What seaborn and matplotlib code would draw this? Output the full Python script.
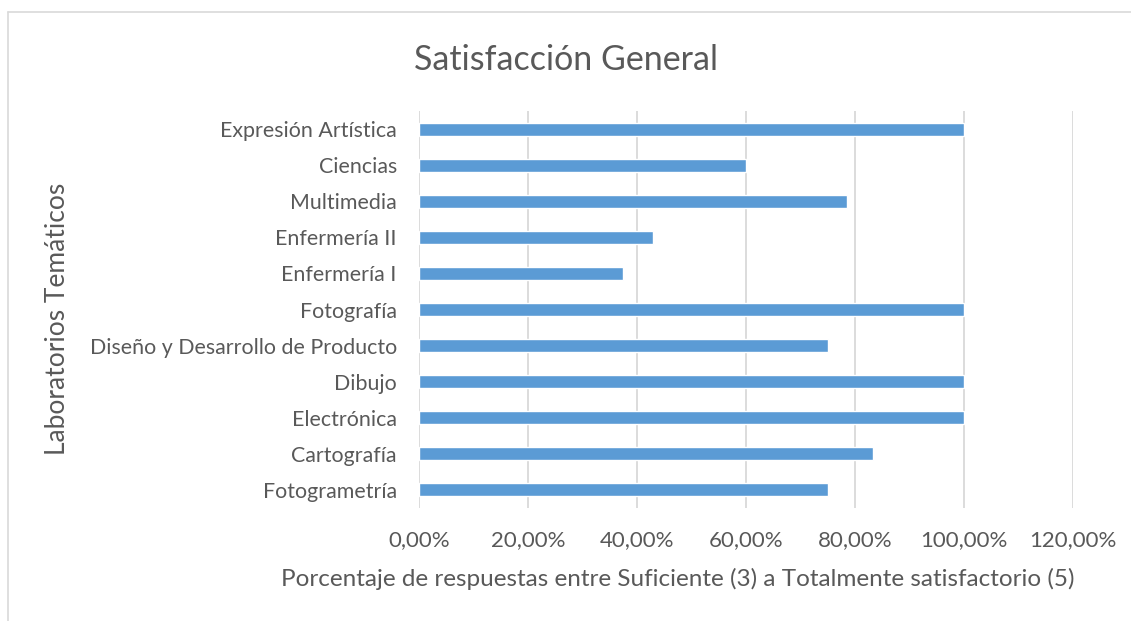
import matplotlib
matplotlib.use("Agg")
import matplotlib.pyplot as plt
import seaborn as sns
import pandas as pd
from matplotlib.ticker import FuncFormatter
from matplotlib.lines import Line2D

laboratorios = ['Expresión Artística', 'Ciencias', 'Multimedia', 'Enfermería II',
                'Enfermería I', 'Fotografía', 'Diseño y Desarrollo de Producto',
                'Dibujo', 'Electrónica', 'Cartografía', 'Fotogrametría']
porcentajes = [100.0, 60.0, 78.57, 42.86, 37.5, 100.0, 75.0, 100.0, 100.0, 83.33, 75.0]

df = pd.DataFrame({'lab': laboratorios, 'pct': porcentajes})

sns.set_style('white')
plt.rcParams['font.family'] = ['Lato', 'DejaVu Sans']
gris = '#595959'

fig = plt.figure(figsize=(11.31, 6.21), dpi=100)
ax = fig.add_axes([0.3705, 0.182, 0.578, 0.639])

sns.barplot(data=df, y='lab', x='pct', color='#5B9BD5', width=0.36,
            saturation=1, orient='h', ax=ax, zorder=3)

ax.set_xlim(0, 120)
ax.set_xticks(range(0, 121, 20))
ax.xaxis.set_major_formatter(FuncFormatter(lambda v, p: f'{v:.2f}%'.replace('.', ',')))
ax.grid(axis='x', color='#D9D9D9', linewidth=1.3, zorder=0)
for s in ax.spines.values():
    s.set_visible(False)
ax.tick_params(axis='both', length=0, labelcolor=gris)
ax.tick_params(axis='x', labelsize=16, pad=16)
ax.tick_params(axis='y', labelsize=15.4, pad=16)

ax.set_xlabel('Porcentaje de respuestas entre Suficiente (3) a Totalmente satisfactorio (5)',
              fontsize=17.5, color=gris)
ax.xaxis.set_label_coords(0.396, -0.152)
ax.set_ylabel('Laboratorios Temáticos', fontsize=19, color=gris)
ax.yaxis.set_label_coords(-0.534, 0.477)

fig.text(0.5, 0.903, 'Satisfacción General', ha='center', va='center',
         fontsize=24.5, color=gris)

# borde del área del gráfico
fig.add_artist(Line2D([0.007, 1], [0.981, 0.981], color='#D9D9D9', lw=1.2))
fig.add_artist(Line2D([0.007, 0.007], [0, 0.981], color='#D9D9D9', lw=1.2))

fig.savefig('out.png', dpi=100)
